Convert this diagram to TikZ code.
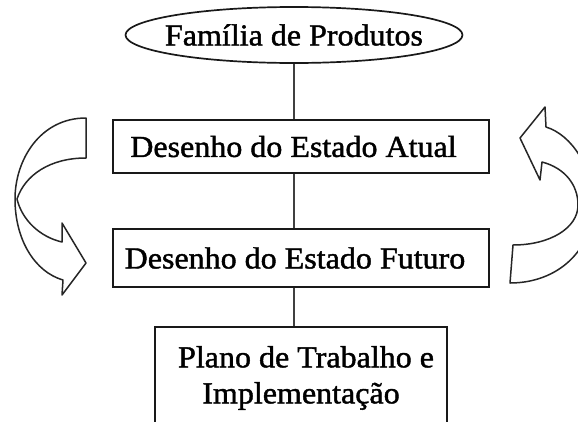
\documentclass[tikz,border=0pt]{standalone}
\usepackage{fontspec}
\setmainfont{Liberation Serif}[FakeStretch=1.05,FakeBold=1.4]
\usetikzlibrary{shapes.geometric}
\begin{document}
\begin{tikzpicture}[x=1pt,y=-1pt,
  box/.style={draw=black!90, line width=1.7pt, fill=white, inner sep=0pt, font=\fontsize{30.5}{36}\selectfont},
  link/.style={draw=black!75, line width=1.5pt},
  curvedarrow/.style={draw=black!85, line width=1.5pt, fill=white, line join=round}]
\useasboundingbox (0,0) rectangle (578,421);
\clip (0,0) rectangle (578,421);
\node[box, ellipse, minimum width=337pt, minimum height=56pt] (fam) at (294,35) {\makebox[0pt]{Família de Produtos}};
\node[box, minimum width=376pt, minimum height=53pt] (atual) at (301,146.5) {Desenho do Estado Atual\hspace{15pt}\null};
\node[box, minimum width=376pt, minimum height=58pt] (futuro) at (301,258) {Desenho do Estado Futuro\hspace{12pt}\null};
\node[box, minimum width=292pt, minimum height=102pt, align=center] (plano) at (301,378) {\hspace{10pt}Plano de Trabalho e\\Implementação};
\draw[link] (fam.south) -- (fam.south |- atual.north);
\draw[link] (fam.south |- atual.south) -- (fam.south |- futuro.north);
\draw[link] (fam.south |- futuro.south) -- (fam.south |- plano.north);
% left curved arrow
\draw[curvedarrow] (86,118) .. controls (40,118) and (15,160) .. (15,199)
  .. controls (15,240) and (35,272) .. (63,280) -- (62,295) -- (86,263) -- (62,223) -- (62,242)
  .. controls (40,237) and (22,220) .. (17,199)
  .. controls (25,175) and (50,158) .. (86,158) -- cycle;
% right curved arrow
\draw[curvedarrow] (510,283) .. controls (558,283) and (593,250) .. (593,205)
  .. controls (593,168) and (572,135) .. (546,127) -- (545,107) -- (520,138) -- (540,180) -- (542,162)
  .. controls (565,168) and (578,185) .. (578,205)
  .. controls (578,228) and (550,245) .. (513,245) -- cycle;
\end{tikzpicture}
\end{document}
